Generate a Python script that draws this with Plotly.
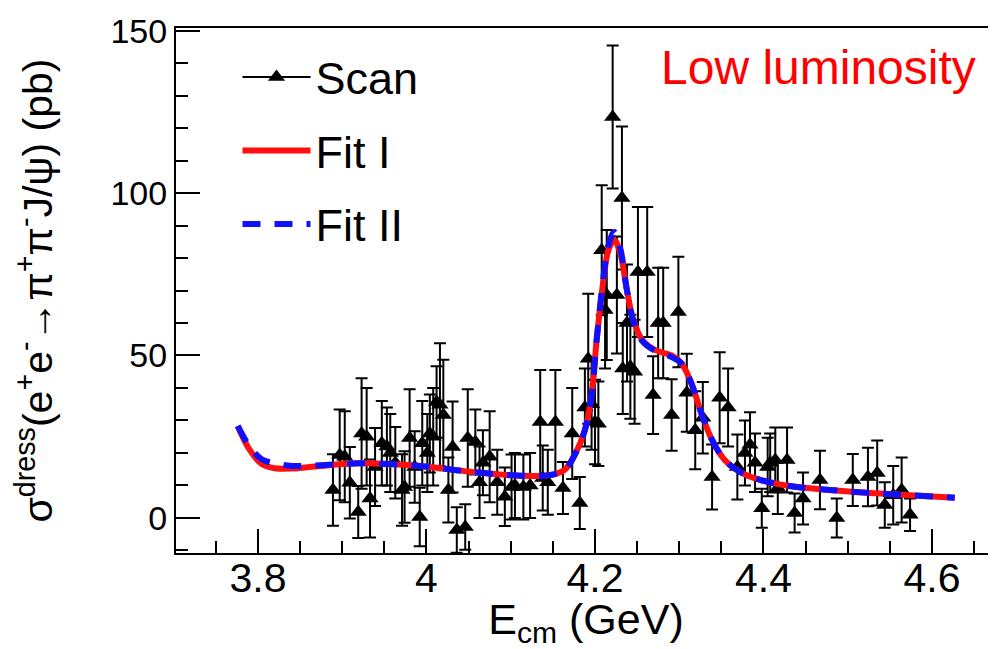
import plotly.graph_objects as go

# ---- Scan data: E_cm (GeV), cross section (pb), error (pb)
scan_e = [3.889, 3.897, 3.903, 3.909, 3.919, 3.923, 3.929, 3.933, 3.939, 3.947,
          3.953, 3.957, 3.963, 3.971, 3.974, 3.980, 3.986, 3.992, 3.995, 4.001,
          4.004, 4.008, 4.012, 4.016, 4.020, 4.026, 4.031, 4.036, 4.046, 4.049,
          4.058, 4.063, 4.067, 4.075, 4.084, 4.093, 4.101, 4.105, 4.115, 4.123,
          4.135, 4.138, 4.144, 4.153, 4.162, 4.173, 4.182, 4.188, 4.192, 4.196,
          4.200, 4.204, 4.208, 4.212, 4.214, 4.221, 4.226, 4.232, 4.233, 4.238,
          4.242, 4.247, 4.251, 4.262, 4.269, 4.275, 4.281, 4.291, 4.299, 4.309,
          4.319, 4.328, 4.339, 4.348, 4.358, 4.369, 4.378, 4.384, 4.390, 4.398,
          4.405, 4.408, 4.414, 4.417, 4.428, 4.437, 4.447, 4.467, 4.487, 4.506,
          4.524, 4.535, 4.544, 4.554, 4.564, 4.574]
scan_sigma = [8.6, 19.4, 18.8, 10.8, 1.8, 26.0, 25.0, 6.0, 15.7, 23.0,
              22.0, 20.0, 17.0, 8.6, 9.5, 24.6, 15.7, 0.3, 23.0, 20.0,
              26.0, 25.0, 35.7, 34.8, 31.7, 8.6, 21.8, -3.7, -2.8, 24.6,
              23.4, 11.0, 17.0, 18.8, 11.0, 6.5, 9.5, 10.0, 9.5, 10.0,
              29.5, 12.3, 11.0, 29.5, 9.2, 26.0, 4.6, 34.0, 49.0, 35.0,
              29.5, 29.0, 82.4, 64.0, 68.6, 123.4, 68.6, 98.5, 46.0, 60.0,
              46.5, 45.0, 75.7, 75.7, 37.8, 60.0, 60.0, 31.7, 63.4, 38.5,
              27.0, 30.8, 12.6, 37.0, 34.0, 15.7, 20.0, 22.5, 17.0, 3.0,
              15.7, 17.0, 17.8, 9.2, 17.8, 1.5, 6.0, 11.7, 0.0, 11.7,
              12.6, 13.8, 4.0, 7.0, 8.6, 1.0]
scan_err = [11, 14, 14, 11, 8, 17, 15, 12, 12, 13,
            12, 12, 11, 11, 11, 15, 11, 9, 13, 12,
            12, 15, 11, 19, 17, 10, 14, 7, 7, 15,
            10, 11, 10, 14, 10, 9, 10, 10, 10, 10,
            16, 10, 10, 16, 8, 14, 8, 12, 20, 14,
            13, 13, 20, 18, 20, 22, 18, 22, 14, 18,
            16, 16, 20, 20, 12, 17, 17, 11, 17, 12,
            12, 11, 10, 14, 12, 10, 10, 10, 9, 6,
            9, 9, 10, 8, 10, 6, 8, 9, 6, 8,
            9, 10, 7, 9, 10, 5]

# ---- Fit curves
fit_e = [3.776, 3.790, 3.805, 3.820, 3.840, 3.874, 3.921, 3.992, 4.052, 4.111,
         4.147, 4.164, 4.176, 4.188, 4.196, 4.202, 4.210, 4.216, 4.223, 4.230,
         4.238, 4.245, 4.256, 4.271, 4.291, 4.303, 4.315, 4.327, 4.339, 4.354,
         4.372, 4.396, 4.431, 4.479, 4.526, 4.574, 4.627]
fit1_sigma = [28.3, 21.0, 16.5, 15.3, 15.2, 16.0, 16.8, 16.0, 14.2, 13.0,
              13.2, 14.8, 19.4, 27.0, 37.8, 54.8, 73.0, 82.5, 85.5, 81.5,
              70.0, 61.5, 54.8, 51.7, 50.0, 47.5, 41.0, 31.7, 24.0, 17.8,
              14.2, 11.7, 9.8, 8.6, 7.7, 7.0, 6.2]
fit2_sigma = [28.3, 22.0, 18.0, 16.8, 16.0, 16.2, 16.8, 16.0, 14.2, 13.0,
              13.2, 14.8, 19.4, 27.0, 37.8, 54.8, 74.0, 84.0, 88.0, 83.0,
              70.0, 61.0, 54.5, 51.5, 49.5, 47.5, 41.0, 31.7, 24.0, 17.8,
              14.2, 11.7, 9.8, 8.6, 7.7, 7.0, 6.2]

x_ticks = [3.8, 4.0, 4.2, 4.4, 4.6]
x_ticklabels = ["3.8", "4", "4.2", "4.4", "4.6"]
y_ticks = [0, 50, 100, 150]
y_ticklabels = ["0", "50", "100", "150"]

FONT = "Liberation Sans, Arial, sans-serif"
RED = "#ff1010"
BLUE = "#1010ff"

fig = go.Figure()

fig.add_trace(go.Scatter(
    x=scan_e, y=scan_sigma, mode="markers",
    marker=dict(symbol="triangle-up", size=15, color="black"),
    error_y=dict(type="data", array=scan_err, color="black", thickness=2, width=6),
    showlegend=False, cliponaxis=True,
))
fig.add_trace(go.Scatter(
    x=fit_e, y=fit1_sigma, mode="lines", line=dict(color=RED, width=6, shape="spline"),
    name="Fit I", legendgroup="b", showlegend=False,
))
fig.add_trace(go.Scatter(
    x=fit_e, y=fit2_sigma, mode="lines",
    line=dict(color=BLUE, width=6, dash="18px,14px", shape="spline"),
    name="Fit II", legendgroup="c", showlegend=False,
))
# legend entries
fig.add_trace(go.Scatter(
    x=[None], y=[None], mode="lines+markers", name="Scan", legendgroup="a",
    line=dict(color="black", width=2),
    marker=dict(symbol="triangle-up", size=15, color="black"),
))
fig.add_trace(go.Scatter(
    x=[None], y=[None], mode="lines", name="Fit I", legendgroup="b",
    line=dict(color=RED, width=6),
))
fig.add_trace(go.Scatter(
    x=[None], y=[None], mode="lines", name="Fit II", legendgroup="c",
    line=dict(color=BLUE, width=6, dash="18px,14px"),
))

fig.add_annotation(
    text="Low luminosity", xref="paper", yref="paper", x=0.978, y=0.98,
    xanchor="right", yanchor="top", showarrow=False,
    font=dict(family=FONT, size=48, color="#ff0000"),
)

fig.update_layout(
    width=988, height=641,
    margin=dict(l=168, r=0, t=20, b=96),
    paper_bgcolor="white", plot_bgcolor="white",
    font=dict(family=FONT, color="black"),
    legend=dict(
        x=0.075, y=0.975, xanchor="left", yanchor="top",
        font=dict(family=FONT, size=45, color="black"),
        bgcolor="rgba(0,0,0,0)", itemwidth=68, tracegroupgap=12,
        traceorder="grouped",
    ),
    xaxis=dict(
        range=[3.7027, 4.676], showgrid=False, zeroline=False, automargin=False,
        showline=True, linecolor="black", linewidth=2, mirror=True,
        ticks="inside", ticklen=24, tickwidth=2, tickcolor="black",
        tickvals=x_ticks, ticktext=x_ticklabels, ticklabelstandoff=-12,
        tickfont=dict(family=FONT, size=41, color="black"),
        minor=dict(dtick=0.05, tick0=3.7, ticks="inside", ticklen=12, tickwidth=2, tickcolor="black"),
        title=dict(text="E<sub>cm</sub> (GeV)", font=dict(family=FONT, size=43, color="black"), standoff=2),
    ),
    yaxis=dict(
        range=[-10.8, 150.8], showgrid=False, zeroline=False, automargin=False,
        showline=True, linecolor="black", linewidth=2, mirror=False,
        ticks="inside", ticklen=24, tickwidth=2, tickcolor="black",
        tickvals=y_ticks, ticktext=y_ticklabels,
        tickfont=dict(family=FONT, size=34, color="black"),
        minor=dict(dtick=10, tick0=0, ticks="inside", ticklen=12, tickwidth=2, tickcolor="black"),
        title=dict(text="σ<sup>dress</sup>(e<sup>+</sup>e<sup>-</sup>→π<sup>+</sup>π<sup>-</sup>J/ψ) (pb)",
                   font=dict(family=FONT, size=41, color="black"), standoff=45),
    ),
)

fig.write_html("out.html")
